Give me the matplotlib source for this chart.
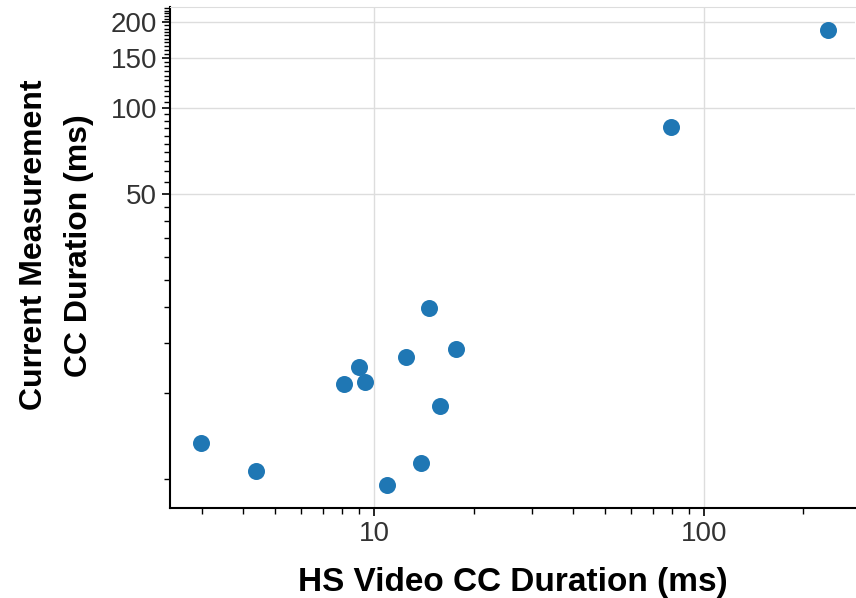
import numpy as np
import matplotlib
matplotlib.use("Agg")
import matplotlib.pyplot as plt
from matplotlib.ticker import FixedLocator, LogLocator, NullFormatter, FixedFormatter

plt.rcParams['font.family'] = ['Liberation Sans', 'DejaVu Sans']

# data (ms)
hs_video = [2.99, 4.37, 8.11, 9.01, 9.37, 10.9, 12.5, 13.9, 14.7, 15.8, 17.7, 79.6, 238]
current = [6.68, 5.32, 10.8, 12.3, 10.9, 4.75, 13.4, 5.66, 19.9, 9.01, 14.3, 85.9, 187.6]

y_major = [50, 100, 150, 200]
y_minor = list(range(5, 230, 5))

fig = plt.figure(figsize=(8.56, 5.98), dpi=100)
ax = fig.add_axes([0.199, 0.150, 0.800, 0.838])

ax.scatter(hs_video, current, s=150, color='#1f77b4', zorder=3, linewidths=0)

ax.set_xscale('log')
ax.set_yscale('log')
ax.set_xlim(2.41, 287)
ax.set_ylim(3.94, 226)

ax.yaxis.set_major_locator(FixedLocator(y_major))
ax.yaxis.set_major_formatter(FixedFormatter([str(v) for v in y_major]))
ax.yaxis.set_minor_locator(FixedLocator(y_minor))
ax.yaxis.set_minor_formatter(NullFormatter())
ax.xaxis.set_major_locator(FixedLocator([10, 100]))
ax.xaxis.set_major_formatter(FixedFormatter(['10', '100']))
ax.xaxis.set_minor_locator(LogLocator(base=10, subs=np.arange(2, 10)))
ax.xaxis.set_minor_formatter(NullFormatter())

ax.grid(True, which='major', color='#dddddd', linewidth=1)
ax.set_axisbelow(True)

ax.tick_params(which='major', length=6, width=1.2, labelsize=20, labelcolor='#333333', direction='out')
ax.tick_params(which='minor', length=4, width=1, direction='out')

for side in ['left', 'bottom']:
    ax.spines[side].set_linewidth(1.5)
    ax.spines[side].set_color('black')
ax.spines['top'].set_color('#dddddd')
ax.spines['right'].set_visible(False)

ax.set_xlabel('HS Video CC Duration (ms)', fontsize=24, fontweight='bold', labelpad=14)
ax.set_ylabel('Current Measurement\nCC Duration (ms)', fontsize=23, fontweight='bold',
              labelpad=12, linespacing=1.65)
# label sits a bit above the axes centre in the reference
ax.yaxis.label.set_y(0.525)

fig.savefig('out.png', dpi=100)
